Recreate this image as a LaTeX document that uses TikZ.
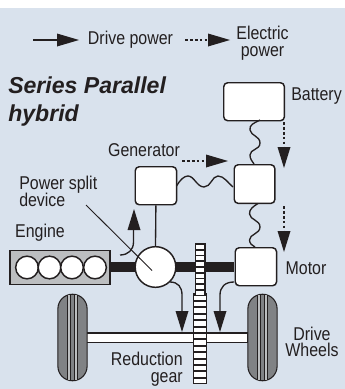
\documentclass[tikz,border=0pt]{standalone}
\usepackage{fontspec}
\setmainfont{Liberation Sans}
\newfontfamily\lab[FakeStretch=0.86]{Liberation Sans}
\usetikzlibrary{calc}
\definecolor{bgblue}{HTML}{D9E2ED}
\definecolor{ink}{HTML}{231F20}
\definecolor{enginegray}{HTML}{BCBEC0}
\definecolor{tiregray}{HTML}{808285}
\tikzset{
  x=0.75pt,y=-0.75pt,
  box/.style={draw=ink,line width=1.1pt,fill=white,rounded corners=3pt,inner sep=0,anchor=north west},
  lbl/.style={font=\lab\fontsize{13.9}{14.5}\selectfont,text=ink,inner sep=0,align=center},
  wire/.style={draw=ink,line width=0.9pt},
  stem/.style={draw=ink,line width=1pt},
  dots/.style={draw=ink,line width=1.2pt,dash pattern=on 2pt off 1.7pt},
  tire/.style={draw=ink,line width=0.8pt,fill=tiregray,rounded corners=10.9pt,inner sep=0,minimum width=21.9pt,minimum height=64.9pt},
}
\newcommand{\headR}[1]{\fill[ink] ($(#1)+(-22,-6.5)$) -- (#1) -- ($(#1)+(-22,6.5)$) -- cycle;}
\newcommand{\headD}[1]{\fill[ink] ($(#1)+(-6.5,-21)$) -- (#1) -- ($(#1)+(6.5,-21)$) -- cycle;}
\newcommand{\headU}[1]{\fill[ink] ($(#1)+(-6.5,21)$) -- (#1) -- ($(#1)+(6.5,21)$) -- cycle;}
\newcommand{\treads}[1]{%
  \fill[enginegray] ($(#1)+(-5.2,-42.8)$) rectangle ($(#1)+(5.2,42.8)$);
  \fill[tiregray] ($(#1)+(-1.8,-42.8)$) rectangle ($(#1)+(1.8,42.8)$);
  \foreach \dx in {-5.2,-1.8,1.8,5.2}
    \draw[ink,line width=0.7pt] ($(#1)+(\dx,-42.8)$) -- ($(#1)+(\dx,42.8)$);
}
\begin{document}
\begin{tikzpicture}
\useasboundingbox (0,0) rectangle (345,389);
\fill[bgblue] (0,8) rectangle (345,389);

% legend
\coordinate (l1a) at (33,40); \coordinate (l1b) at (79,40);
\draw[stem] (l1a) -- (60,40); \headR{l1b}
\node[lbl,anchor=center] (ldrive) at (130.5,39.5) {Drive power};
\coordinate (l2a) at (185,40); \coordinate (l2b) at (230,40);
\draw[dots] (l2a) -- (210,40); \headR{l2b}
\node[lbl,anchor=center] (lelec) at (262.5,43.5) {Electric\\[-1.5pt]power};

% title
\node[font=\bfseries\itshape\fontsize{17.3}{21}\selectfont,text=ink,inner sep=0,align=left,anchor=north west] (title) at (8,77) {Series Parallel\\hybrid};

% axle and wheels
\node[draw=ink,line width=0.8pt,fill=white,inner sep=0,minimum width=121pt,minimum height=6.8pt] (axle) at (167,337.5) {};
\node[tire] (wheelL) at (72.5,337.5) {};
\treads{wheelL}
\node[tire] (wheelR) at (262.5,337.5) {};
\treads{wheelR}

% shaft
\fill[ink] (110,262) rectangle (234,272);

% engine
\node[draw=ink,line width=0.8pt,fill=enginegray,inner sep=0,minimum width=75pt,minimum height=26pt] (engine) at (60,267.5) {};
\foreach \cx/\n in {27/a,49.5/b,72/c,95/d}
  \node[circle,draw=ink,line width=1.1pt,fill=white,inner sep=0,minimum size=17pt] (cyl\n) at (\cx,267.5) {};

% gear
\fill[ink] (194.5,243) rectangle (205.5,295);
\fill[ink] (193,293) rectangle (207,384);
\foreach \y in {245,250.7,...,291} \fill[white] (196,\y) rectangle (204,\y+4);
\foreach \y in {295.5,301.9,...,380} \fill[white] (194.2,\y) rectangle (205.8,\y+4.5);
\node[inner sep=0,minimum width=10.5pt,minimum height=105pt] (gear) at (200,313.5) {};

% boxes
\node[box,minimum width=45.5pt,minimum height=28.5pt] (battery) at (223,82) {};
\node[box,minimum width=30.5pt,minimum height=29pt] (inverter) at (233.5,164) {};
\node[box,minimum width=31pt,minimum height=28.5pt] (generator) at (134.5,166) {};
\node[box,minimum width=31pt,minimum height=28.5pt] (motor) at (234.5,247) {};

% power split device
\node[circle,draw=ink,line width=1.1pt,fill=white,inner sep=0,minimum size=30.5pt] (psd) at (155.5,267) {};
\draw[wire,line width=1pt] (generator.south) -- (psd.north);

% pointer
\node[lbl,anchor=north west,align=left] (lpsd) at (19,176) {Power split\\[-2pt]device};
\coordinate (ptr) at (152,270.5);
\coordinate (ptrstart) at (86,205);
\draw[wire,line width=0.7pt] (ptrstart) -- (ptr);

% wavy links
\draw[wire,line width=1pt] (260,120) .. controls (254,123) and (249,125) .. (250,130)
  .. controls (251,136) and (260,136) .. (260,143) .. controls (260,150) and (250,149) .. (250,155)
  .. controls (250,159) and (252,161) .. (254,164);
\draw[wire,line width=1pt] (258,203.5) .. controls (254,206) and (249,209) .. (249.5,214)
  .. controls (250,220) and (260,220) .. (260,227) .. controls (260,234) and (249.5,234) .. (249.5,240)
  .. controls (249.5,243) and (252,246) .. (255,247);
\draw[wire,line width=1pt] (176.5,186) .. controls (180,180) and (184,176) .. (188,176)
  .. controls (194,176) and (197,187) .. (204,187) .. controls (211,187) and (212,176) .. (218,176)
  .. controls (224,176) and (228,183) .. (233,187);

% generator dotted arrow
\coordinate (g1) at (182,161); \coordinate (g2) at (228,161);
\draw[dots] (g1) -- (207,161); \headR{g2}
% battery/inverter dotted arrows
\coordinate (b1) at (284,122); \coordinate (b2) at (284,168);
\draw[dots] (b1) -- (284,148); \headD{b2}
\coordinate (m1) at (284,206); \coordinate (m2) at (284,252);
\draw[dots] (m1) -- (284,231); \headD{m2}

% drive arrows
\coordinate (u2) at (134,209);
\draw[stem] (120,255) .. controls (128,255) and (133.5,250) .. (133.5,242) -- (133.5,229); \headU{u2}
\coordinate (d1) at (182,332);
\draw[stem] (170,282) .. controls (178,282) and (182,287) .. (182,295) -- (182,313); \headD{d1}
\coordinate (d2) at (220,332);
\draw[stem] (234,282) .. controls (225,282) and (220,287) .. (220,295) -- (220,313); \headD{d2}

% labels
\node[lbl,anchor=center] (lbat) at (316.5,96.5) {Battery};
\node[lbl,anchor=center] (lgen) at (144,150) {Generator};
\node[lbl,anchor=center] (leng) at (40,233) {Engine};
\node[lbl,anchor=center] (lmot) at (306,268) {Motor};
\node[lbl,anchor=north east,align=right] (lred) at (183,352) {Reduction\\[-2pt]gear};
\node[lbl,anchor=center] (lwh) at (312,342) {Drive\\[-2pt]Wheels};
\end{tikzpicture}
\end{document}
